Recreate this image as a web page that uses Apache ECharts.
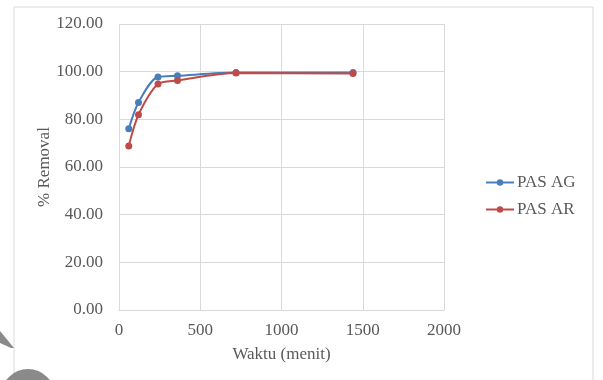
<!DOCTYPE html>
<html>
<head>
<meta charset="utf-8">
<script src="https://cdn.jsdelivr.net/npm/echarts@6/dist/echarts.min.js"></script>
<style>
  html, body { margin: 0; padding: 0; background: #fff; }
  #chart { width: 603px; height: 380px; }
</style>
</head>
<body>
<div id="chart"></div>
<script>
// Contact time (minutes) and removal efficiency (%)
const waktu = [60, 120, 240, 360, 720, 1440];
const pasAG = [76.0, 87.1, 97.8, 98.3, 99.6, 99.7];
const pasAR = [68.8, 81.9, 94.8, 96.3, 99.4, 99.2];
const seriesNames = ['PAS AG', 'PAS AR'];
const colors = ['#4a7ebb', '#be4b48'];

const pairs = (xs, ys) => xs.map((x, i) => [x, ys[i]]);
const font = 'Liberation Serif, Times New Roman, serif';
const fs = 17;

const chart = echarts.init(document.getElementById('chart'));
chart.setOption({
  animation: false,
  textStyle: { fontFamily: font },
  graphic: [
    {
      type: 'rect',
      shape: { x: 14, y: 7, width: 579, height: 400 },
      style: { fill: 'none', stroke: '#d9d9d9', lineWidth: 1 },
      silent: true
    },
    {
      // pointer wedge at the lower-left corner
      type: 'polygon',
      shape: { points: [[0, 331], [14, 348], [11, 348], [0, 343]] },
      style: { fill: '#8a8a8a' },
      silent: true
    },
    {
      // ring badge at the lower-left corner
      type: 'ring',
      shape: { cx: 28, cy: 396, r: 27, r0: 14 },
      style: { fill: '#8a8a8a' },
      silent: true
    }
  ],
  grid: { left: 119, right: 159, top: 24, bottom: 70 },
  legend: {
    orient: 'vertical',
    left: 480,
    top: 169,
    itemGap: 10,
    itemWidth: 28,
    itemHeight: 8,
    textStyle: { fontFamily: font, fontSize: fs, color: '#595959', padding: [0, 0, 0, -2] },
    data: seriesNames
  },
  xAxis: {
    type: 'value',
    min: 0, max: 2000, interval: 500,
    name: 'Waktu (menit)',
    nameLocation: 'middle',
    nameGap: 36,
    nameTextStyle: { fontFamily: font, fontSize: fs, color: '#595959' },
    axisLine: { show: true, lineStyle: { color: '#d9d9d9' } },
    axisTick: { show: false },
    axisLabel: { fontFamily: font, fontSize: fs, color: '#595959', margin: 12, formatter: v => String(v) },
    splitLine: { show: true, lineStyle: { color: '#d9d9d9' } }
  },
  yAxis: {
    type: 'value',
    min: 0, max: 120, interval: 20,
    name: '% Removal',
    nameLocation: 'middle',
    nameGap: 66,
    nameMoveOverlap: false,
    nameTextStyle: { fontFamily: font, fontSize: fs, color: '#595959' },
    axisLine: { show: false },
    axisTick: { show: false },
    axisLabel: {
      fontFamily: font, fontSize: fs, color: '#595959', margin: 16,
      formatter: v => v.toFixed(2)
    },
    splitLine: { show: true, lineStyle: { color: '#d9d9d9' } }
  },
  series: [
    {
      name: seriesNames[0], type: 'line', smooth: 0.3,
      data: pairs(waktu, pasAG),
      symbol: 'circle', symbolSize: 7,
      itemStyle: { color: colors[0] },
      lineStyle: { color: colors[0], width: 2 }
    },
    {
      name: seriesNames[1], type: 'line', smooth: 0.3,
      data: pairs(waktu, pasAR),
      symbol: 'circle', symbolSize: 7,
      itemStyle: { color: colors[1] },
      lineStyle: { color: colors[1], width: 2 }
    }
  ]
});
</script>
</body>
</html>
